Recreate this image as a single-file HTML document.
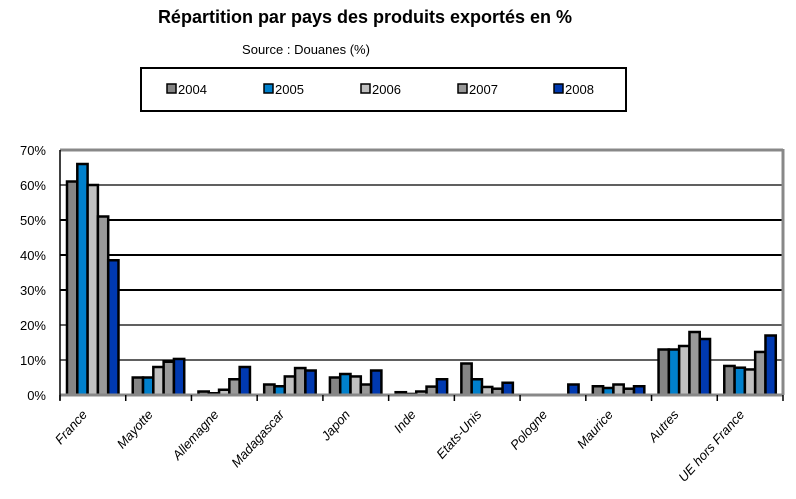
<!DOCTYPE html>
<html><head><meta charset="utf-8"><style>
body{margin:0;background:#fff;font-family:"Liberation Sans",sans-serif}
</style></head><body>
<svg width="796" height="494" xmlns="http://www.w3.org/2000/svg" id="chart" font-family="Liberation Sans, sans-serif">
<text x="365" y="23" text-anchor="middle" font-size="18" font-weight="bold">Répartition par pays des produits exportés en %</text>
<text x="306" y="54" text-anchor="middle" font-size="13">Source : Douanes (%)</text>
<rect x="141" y="68" width="485" height="43" fill="#fff" stroke="#000" stroke-width="2"/>
<g id="legend"></g>
<g id="grid"></g>
<g id="bars"></g>
<g id="axes"></g>
</svg>
<script>
const categories=["France","Mayotte","Allemagne","Madagascar","Japon","Inde","Etats-Unis","Pologne","Maurice","Autres","UE hors France"];
const years=["2004","2005","2006","2007","2008"];
const s2004=[61,5,1,3,5,0.8,9,0,2.5,13,8.3];
const s2005=[66,5,0.5,2.5,6,0.3,4.5,0,2,13,7.8];
const s2006=[60,8,1.5,5.3,5.3,1,2.3,0,3,14,7.3];
const s2007=[51,9.5,4.5,7.7,3,2.4,1.8,0,1.8,18,12.3];
const s2008=[38.5,10.3,8,7,7,4.5,3.5,3,2.5,16,17];
const ticks=[0,10,20,30,40,50,60,70];
const series=[s2004,s2005,s2006,s2007,s2008];
const colors=["#858585","#0080cc","#c0c0c0","#999999","#0039b0"];
const NS="http://www.w3.org/2000/svg";
const X0=60,X1=783,Y0=395,Y1=150,YMAX=70;
const cw=(X1-X0)/categories.length;
const y=v=>Y0-(v/YMAX)*(Y0-Y1);
function mk(tag,attrs,parent){const e=document.createElementNS(NS,tag);for(const k in attrs)e.setAttribute(k,attrs[k]);document.getElementById(parent).appendChild(e);return e;}
ticks.forEach(t=>{
  if(t>0&&t<70){const l=mk('line',{x1:X0,x2:X1,y1:y(t),y2:y(t),stroke:'#000','stroke-width':(t>=30&&t<=50)?2:1.3},'grid');
  
  }
  const tx=mk('text',{x:X0-14,y:y(t)+5,'text-anchor':'end','font-size':13},'axes');
  tx.textContent=t+'%';
  
  
});
mk('line',{x1:X0,x2:X1,y1:Y1,y2:Y1,stroke:'#888','stroke-width':3},'axes');
mk('line',{x1:X1,x2:X1,y1:Y1-1,y2:Y0,stroke:'#888','stroke-width':3},'axes');
mk('line',{x1:X0,x2:X1,y1:Y0,y2:Y0,stroke:'#888','stroke-width':3},'axes');
mk('line',{x1:X0,x2:X0,y1:Y1,y2:Y0+5,stroke:'#000','stroke-width':1.5},'axes');
for(let i=0;i<=categories.length;i++){mk('line',{x1:X0+i*cw,x2:X0+i*cw,y1:Y0,y2:Y0+6,stroke:'#000','stroke-width':1.5},'axes');}
const bw=10.3;
categories.forEach((c,i)=>{
  series.forEach((s,j)=>{
    const bx=X0+i*cw+7+j*bw;
    const r=mk('rect',{x:bx,y:y(s[i]),width:bw,height:Math.max(0,Y0-y(s[i])),fill:colors[j],stroke:'#000','stroke-width':2.5},'bars');
    
    
  });
  const cx=X0+i*cw+cw/2-5;
  const t=mk('text',{x:cx,y:415,'text-anchor':'end','font-size':13,'font-style':'italic',transform:`rotate(-48 ${cx} 415)`},'axes');
  t.textContent=c;
  
  
});
const lx=[167,264,361,458,554];
years.forEach((yr,j)=>{
  const g=mk('g',{},'legend');
  
  
  const r=document.createElementNS(NS,'rect');
  r.setAttribute('x',lx[j]);r.setAttribute('y',84);r.setAttribute('width',9);r.setAttribute('height',9);
  r.setAttribute('fill',colors[j]);r.setAttribute('stroke','#000');r.setAttribute('stroke-width',1.5);
  g.appendChild(r);
  const t=document.createElementNS(NS,'text');
  t.setAttribute('x',lx[j]+11);t.setAttribute('y',94);t.setAttribute('font-size',13);
  t.textContent=yr;g.appendChild(t);
});
</script>
</body></html>
